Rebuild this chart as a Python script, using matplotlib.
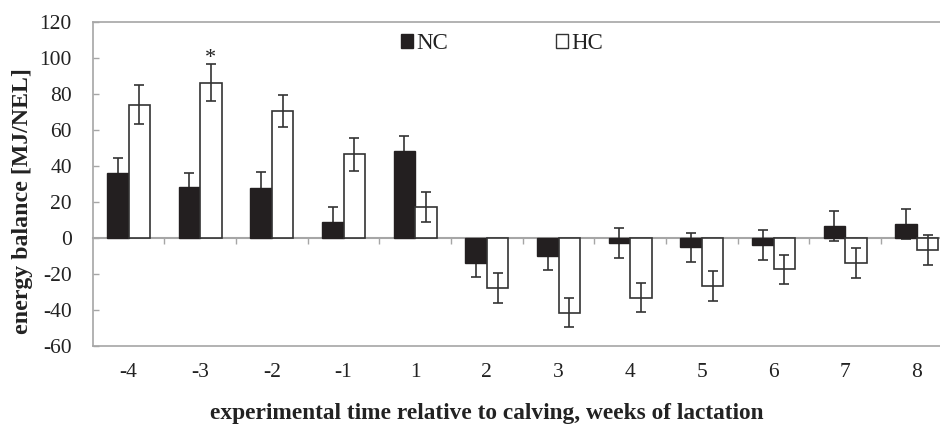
import matplotlib.pyplot as plt
from matplotlib.patches import Patch
import numpy as np

# --- данные ---
WEEKS = ['-4', '-3', '-2', '-1', '1', '2', '3', '4', '5', '6', '7', '8']
NC = [35.8, 28.0, 27.8, 8.9, 48.2, -13.7, -9.8, -2.9, -5.3, -3.9, 6.5, 7.8]
NC_ERR = [8.7, 8.2, 8.7, 8.5, 8.3, 8.0, 8.2, 8.4, 8.0, 8.2, 8.2, 8.2]
HC = [74.0, 86.2, 70.5, 46.4, 17.0, -28.0, -41.5, -33.2, -26.6, -17.5, -13.9, -6.9]
HC_ERR = [11.0, 10.2, 8.7, 9.0, 8.4, 8.4, 8.2, 8.2, 8.2, 8.2, 8.4, 8.3]
STAR_WEEK = '-3'

plt.rcParams['font.family'] = ['Liberation Serif', 'DejaVu Serif']
plt.rcParams['axes.unicode_minus'] = False
GRAY = '#a6a6a6'
DARK = '#231f20'
LINE = '#333333'
TXT = '#222222'

fig = plt.figure(figsize=(9.4, 4.26), dpi=100)
ax = fig.add_axes([92.7 / 940, 80 / 426, 860 / 940, 324.3 / 426])

x = np.arange(len(WEEKS))
w = 0.3
ax.bar(x - w / 2, NC, w, color=DARK, edgecolor=DARK, linewidth=1, zorder=2)
ax.bar(x + w / 2, HC, w, color='white', edgecolor=LINE, linewidth=1.2, zorder=2)
# у чёрных столбцов ус внутри столбца не виден
ax.errorbar(x - w / 2, NC, yerr=NC_ERR, fmt='none', ecolor=LINE,
            elinewidth=1.2, capsize=3.6, capthick=1.2, zorder=1)
ax.errorbar(x + w / 2, HC, yerr=HC_ERR, fmt='none', ecolor=LINE,
            elinewidth=1.2, capsize=3.6, capthick=1.2, zorder=3)

i = WEEKS.index(STAR_WEEK)
ax.text(x[i] + w / 2, HC[i] + HC_ERR[i] - 2.0, '*', ha='center', va='bottom',
        fontsize=16, color=TXT)

ax.set_xlim(-0.5, len(WEEKS) - 0.5)
ax.set_ylim(-60, 120)
ax.set_yticks(range(-60, 121, 20))
ax.tick_params(axis='y', direction='in', length=4, width=1, color=GRAY,
               pad=15, labelsize=15.5, labelcolor=TXT)
ax.set_xticks(x)
ax.set_xticklabels(WEEKS)
ax.tick_params(axis='x', length=0, pad=12, labelsize=15.5, labelcolor=TXT)
for s in ax.spines.values():
    s.set_color(GRAY)
    s.set_linewidth(1.2)

# линия нуля с делениями между группами
zero = ax.secondary_xaxis(60 / 180)
zero.set_xticks(np.arange(0.5, len(WEEKS) - 0.5, 1))
zero.set_xticklabels([])
zero.tick_params(direction='out', length=4.5, width=1, color=GRAY)
zero.spines['bottom'].set_color(GRAY)
zero.spines['bottom'].set_linewidth(1.5)
zero.spines['bottom'].set_zorder(4)

ax.set_ylabel('energy balance [MJ/NEL]', fontsize=17.2, fontweight='bold', color=TXT)
ax.yaxis.set_label_coords(-0.0694, 0.4456)
ax.set_xlabel('experimental time relative to calving, weeks of lactation',
              fontsize=16.8, fontweight='bold', color=TXT)
ax.xaxis.set_label_coords(0.458, -0.176)

handles = [Patch(facecolor=DARK, edgecolor=DARK), Patch(facecolor='white', edgecolor=LINE)]
ax.legend(handles, ['NC', 'HC'], ncol=2, frameon=False, loc='center',
          bbox_to_anchor=(0.476, 0.932), fontsize=16.5, handlelength=0.55,
          handleheight=0.55, handletextpad=0.15, columnspacing=4.68,
          labelcolor=TXT)

plt.savefig('out.png', dpi=100)
